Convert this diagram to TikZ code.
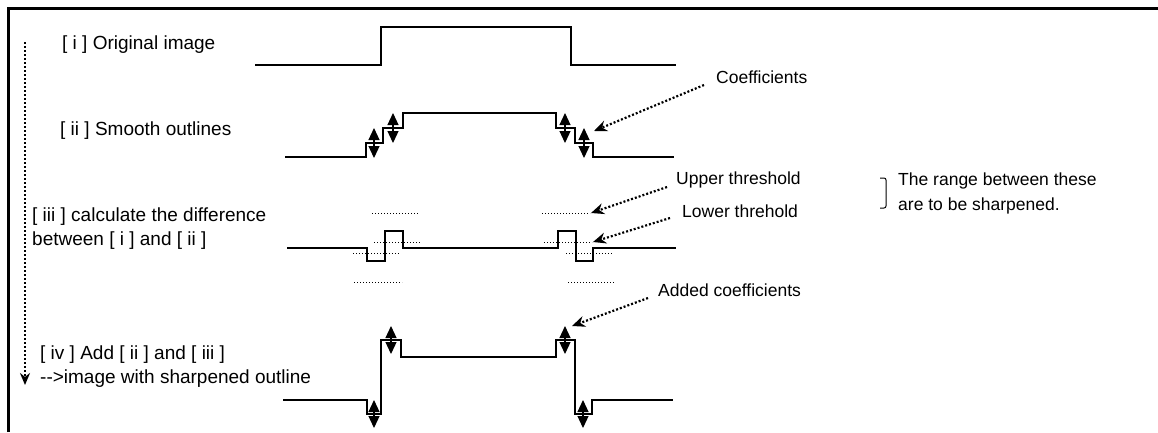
\documentclass[tikz,border=0pt]{standalone}
\usepackage{fontspec}
\setmainfont{Liberation Sans}
\usetikzlibrary{arrows.meta, positioning, calc}

\begin{document}
\begin{tikzpicture}[
  x=1pt, y=-1pt,
  font=\fontsize{19}{24}\selectfont,
  lbl/.style={anchor=west, inner sep=0pt, align=left},
  note/.style={lbl, font=\fontsize{17.5}{25}\selectfont},
  frame/.style={line width=3pt},
  wave/.style={line width=1.6pt},
  thresh/.style={line width=0.9pt, dash pattern=on 1pt off 2pt},
  dblarr/.style={line width=1.2pt,
                 {Triangle[length=12pt,width=11pt]}-{Triangle[length=12pt,width=11pt]}},
  ptr/.style={line width=2.2pt, dash pattern=on 2pt off 2pt,
              -{Stealth[length=13pt,width=11pt]}},
  flow/.style={line width=2pt, dash pattern=on 2pt off 2pt,
               -{Stealth[length=12pt,width=10pt]}}
]
  \useasboundingbox (0,0) rectangle (1158,432);
  \draw[frame] (8,432) -- (8,8) -- (1158,8);

  % step labels
  \node[lbl] (orig) at (62,45) {[ i ] Original image};
  \node[lbl] (smooth) at (60,131) {[ ii ] Smooth outlines};
  \node[lbl] (diff) at (32,229) {[ iii ] calculate the difference\\between [ i ] and [ ii ]};
  \node[lbl] (add) at (40,367) {[ iv ] Add [ ii ] and [ iii ]\\{-}{-}>image with sharpened outline};

  % order of the steps
  \coordinate (flowTop) at (25,42);
  \coordinate (flowEnd) at (25,385);
  \draw[flow] (flowTop) -- (flowEnd);

  % [ i ]
  \draw[wave] (255,65) -| (381,27) -| (571,65) -- (676,65);

  % [ ii ]
  \draw[wave] (285,157) -| (366,143) -| (383,128) -| (403,113) -| (556,128)
              -| (575,143) -| (593,157) -- (674,157);
  \foreach \x/\y in {374/143, 393/128, 565/128, 584/143}
    \draw[dblarr] (\x,\y-15) -- (\x,\y+15);

  % [ iii ]
  \draw[wave] (287,248) -| (367,261) -| (385,231) -| (403,248) -| (558,231)
              -| (576,261) -| (593,248) -- (676,248);
  \foreach \xa/\xb/\y in {372/418/213, 374/421/242, 353/399/253, 354/402/282,
                          542/590/213, 544/592/242, 566/613/253, 568/615/282}
    \draw[thresh] (\xa,\y) -- (\xb,\y);

  % [ iv ]
  \draw[wave] (283,400) -| (367,414) -| (381,340) -| (401,357) -| (556,340)
              -| (575,414) -| (592,400) -- (673,400);
  \foreach \x/\y in {374/414, 391/340, 565/340, 583/414}
    \draw[dblarr] (\x,\y-14) -- (\x,\y+14);

  % notes
  \node[note] (coef) at (716,77) {Coefficients};
  \node[note] (upper) at (676,180) {Upper threshold};
  \node[note] (lower) at (682,211) {Lower threhold};
  \node[note] (added) at (658,290) {Added coefficients};
  \node[note] (range) at (898,193) {The range between these\\are to be sharpened.};
  \draw[line width=1pt, rounded corners=2pt] (880,178) -- (886,178) -- (886,208) -- (880,208);

  \coordinate (coefTip) at (594,131);
  \coordinate (upperTip) at (591,213);
  \coordinate (lowerTip) at (593,242);
  \coordinate (addedTip) at (572,326);
  \draw[ptr] ([xshift=-12pt,yshift=-8pt]coef.west) -- (coefTip);
  \draw[ptr] ([xshift=-9pt,yshift=-7pt]upper.west) -- (upperTip);
  \draw[ptr] ([xshift=-12pt,yshift=-7pt]lower.west) -- (lowerTip);
  \draw[ptr] ([xshift=-10pt,yshift=-8pt]added.west) -- (addedTip);
\end{tikzpicture}
\end{document}
